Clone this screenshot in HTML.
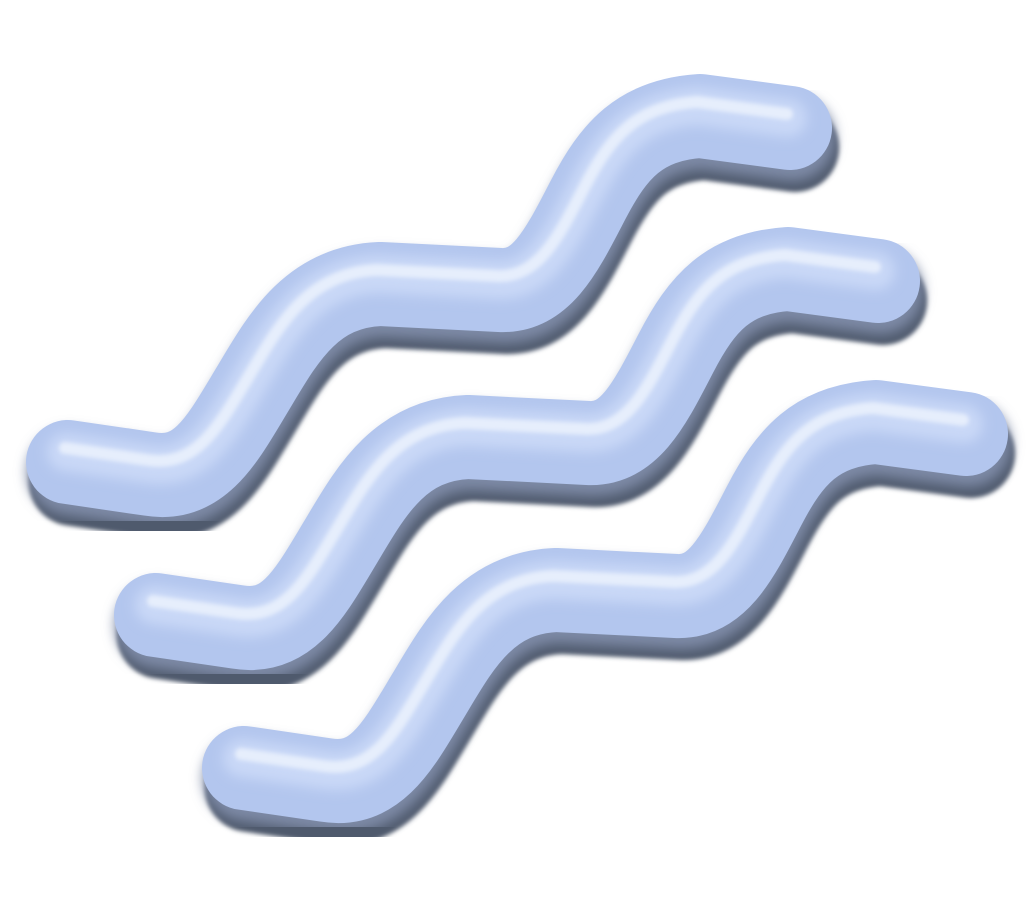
<!DOCTYPE html>
<html><head><meta charset="utf-8"><style>
html,body{margin:0;padding:0;background:#fff;}
svg{display:block}
</style></head><body>
<svg width="1035" height="907" viewBox="0 0 1035 907">
<defs>
<filter id="blur" x="-10%" y="-10%" width="120%" height="120%"><feGaussianBlur stdDeviation="6"/></filter>
<filter id="blur2" x="-10%" y="-10%" width="120%" height="120%"><feGaussianBlur stdDeviation="2"/></filter>
<path id="wave" d="M 68 462 L 150 474 C 200 482, 222 440, 252 390 S 310 287, 380 284 L 500 290 C 542 292, 562 250, 588 200 S 640 120, 700 116 L 790 128"/>
</defs>
<g id="tubes"></g>
</svg>
<script>
const tubeNames = ['top-wave', 'middle-wave', 'bottom-wave'];
const tubeStep = [88, 153];
const g = document.getElementById('tubes');
const NS = 'http://www.w3.org/2000/svg';
tubeNames.forEach((name, i) => {
  const grp = document.createElementNS(NS, 'g');
  grp.setAttribute('transform', `translate(${i*tubeStep[0]},${i*tubeStep[1]})`);
  
  
  const layers = [
    {dx:5, dy:20, w:88, c:'#505a6d', f:'blur2'},
    {dx:2, dy:10, w:86, c:'#7d89a5', f:'blur'},
    {dx:0, dy:0, w:84, c:'#b3c6ee', f:null},
    {dx:-2, dy:-10, w:38, c:'#c9d8f7', f:'blur'},
    {dx:-3, dy:-14, w:12, c:'#e6eefc', f:'blur2'}
  ];
  layers.forEach(L => {
    const u = document.createElementNS(NS, 'use');
    u.setAttribute('href', '#wave');
    u.setAttribute('transform', `translate(${L.dx},${L.dy})`);
    u.setAttribute('fill', 'none');
    u.setAttribute('stroke', L.c);
    u.setAttribute('stroke-width', L.w);
    u.setAttribute('stroke-linecap', 'round');
    u.setAttribute('stroke-linejoin', 'round');
    if (L.f) u.setAttribute('filter', `url(#${L.f})`);
    grp.appendChild(u);
  });
  g.appendChild(grp);
});
</script>
</body></html>
